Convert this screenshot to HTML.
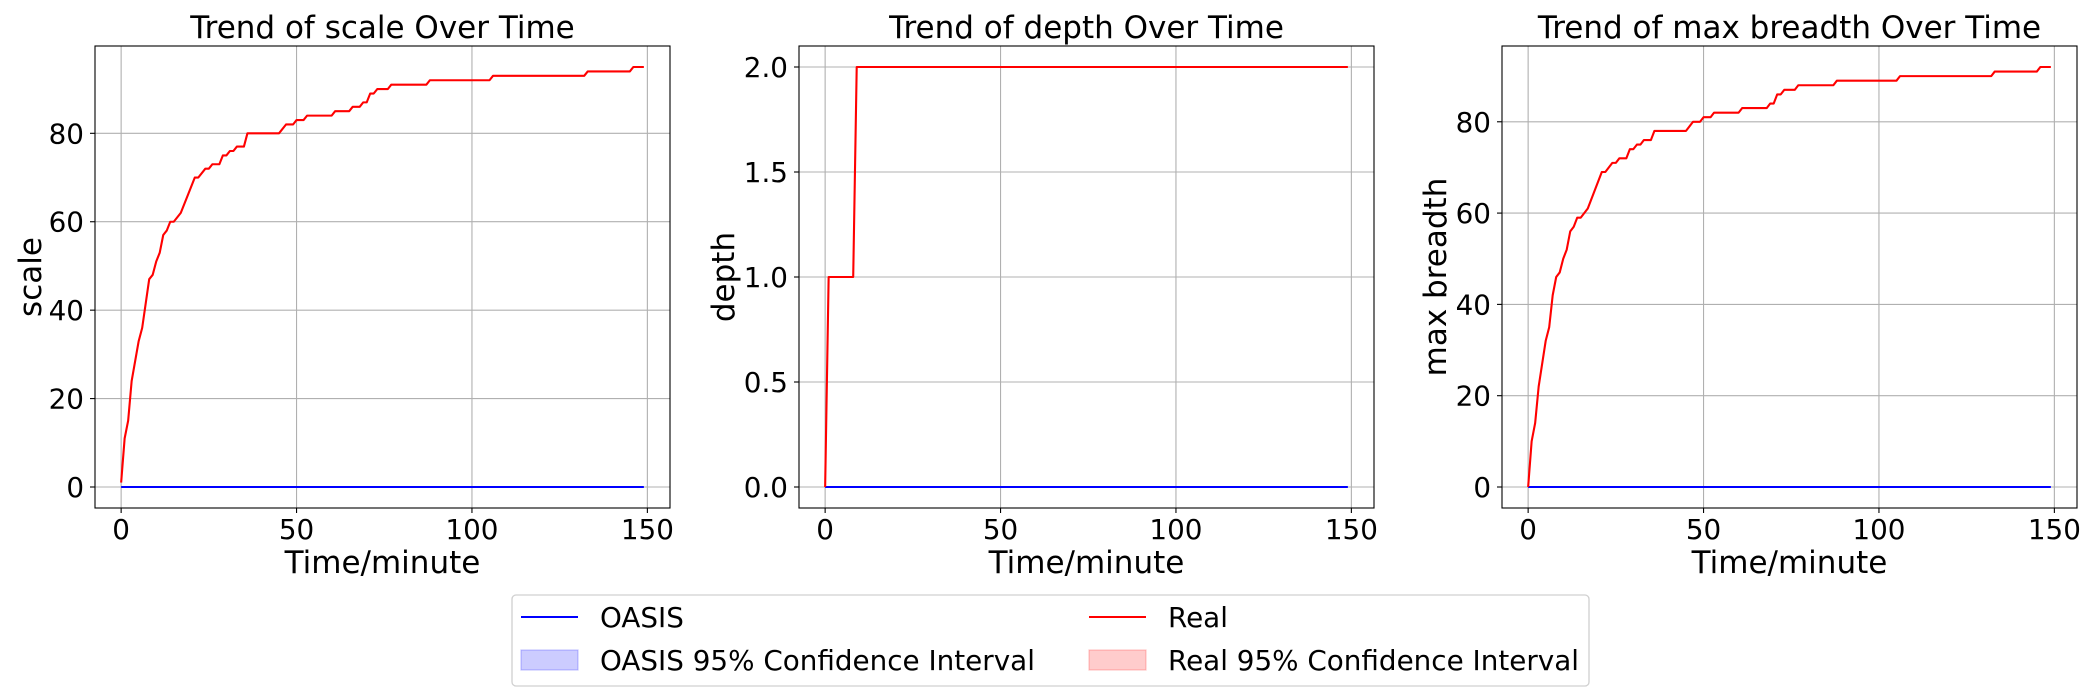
<!DOCTYPE html>
<html><head><meta charset="utf-8">
<style>
html,body{margin:0;padding:0;background:#fff;}
svg{display:block;font-family:"DejaVu Sans","Liberation Sans",sans-serif;}
</style></head>
<body>
<svg id="fig" width="2100" height="700" viewBox="0 0 2100 700" xmlns="http://www.w3.org/2000/svg"></svg>
<script>
// ---------- data ----------
const xTicks = [0, 50, 100, 150];
const oasisTimes = [0, 149];
const oasisValues = [0, 0];

const scaleTimes = [0,1,2,3,5,6,8,9,10,11,12,13,14,15,17,19,21,22,24,25,26,28,29,30,31,32,33,35,36,45,47,49,50,52,53,60,61,65,66,68,69,70,71,72,73,76,77,87,88,105,106,132,133,145,146,149];
const scaleValues = [1,11,15,24,33,36,47,48,51,53,57,58,60,60,62,66,70,70,72,72,73,73,75,75,76,76,77,77,80,80,82,82,83,83,84,84,85,85,86,86,87,87,89,89,90,90,91,91,92,92,93,93,94,94,95,95];
const scaleTicks = [0, 20, 40, 60, 80];
const scaleTickLabels = ["0","20","40","60","80"];

const depthTimes = [0,1,8,9,149];
const depthValues = [0,1,1,2,2];
const depthTicks = [0, 0.5, 1, 1.5, 2];
const depthTickLabels = ["0.0","0.5","1.0","1.5","2.0"];

const breadthTimes = [0,1,2,3,5,6,7,8,9,10,11,12,13,14,15,17,19,21,22,24,25,26,28,29,30,31,32,33,35,36,45,47,49,50,52,53,60,61,68,69,70,71,72,73,76,77,87,88,105,106,132,133,145,146,149];
const breadthValues = [0,10,14,22,32,35,42,46,47,50,52,56,57,59,59,61,65,69,69,71,71,72,72,74,74,75,75,76,76,78,78,80,80,81,81,82,82,83,83,84,84,86,86,87,87,88,88,89,89,90,90,91,91,92,92];
const breadthTicks = [0, 20, 40, 60, 80];
const breadthTickLabels = ["0","20","40","60","80"];

// ---------- drawing ----------
const NS = "http://www.w3.org/2000/svg";
const fig = document.getElementById('fig');
function mk(tag, attrs, parent){
  const e = document.createElementNS(NS, tag);
  for (const k in attrs) e.setAttribute(k, attrs[k]);
  (parent||fig).appendChild(e);
  return e;
}

function panel(opt){
  const g = mk('g', {});
  
  
  const L = opt.left, R = opt.left + 575, T = 46, B = 508;
  const xmin = -7.45, xmax = 156.45;
  const xs = v => L + (v - xmin) / (xmax - xmin) * (R - L);
  const ys = v => B - (v - opt.ymin) / (opt.ymax - opt.ymin) * (B - T);
  // grid
  xTicks.forEach(t => {
    const l = mk('line', {x1: xs(t), x2: xs(t), y1: T, y2: B, stroke: '#b0b0b0', 'stroke-width': 1.1}, g);
    
    
    const tk = mk('line', {x1: xs(t), x2: xs(t), y1: B, y2: B + 5, stroke: '#000', 'stroke-width': 1.1}, g);
    
    
    const tx = mk('text', {x: xs(t), y: 539, 'font-size': 27.8, 'text-anchor': 'middle', fill: '#000'}, g);
    tx.textContent = String(t);
    
    
  });
  opt.ticks.forEach((t, i) => {
    const l = mk('line', {x1: L, x2: R, y1: ys(t), y2: ys(t), stroke: '#b0b0b0', 'stroke-width': 1.1}, g);
    
    
    const tk = mk('line', {x1: L - 5, x2: L, y1: ys(t), y2: ys(t), stroke: '#000', 'stroke-width': 1.1}, g);
    
    
    const tx = mk('text', {x: L - 11, y: ys(t) + 10, 'font-size': 27.8, 'text-anchor': 'end', fill: '#000'}, g);
    tx.textContent = opt.labels[i];
    
    
  });
  // series
  const pts = (ts, vs) => ts.map((t, i) => xs(t).toFixed(2) + ',' + ys(vs[i]).toFixed(2)).join(' ');
  const o = mk('polyline', {points: pts(oasisTimes, oasisValues), fill: 'none', stroke: '#0000ff', 'stroke-width': 2.1}, g);
  
  
  const r = mk('polyline', {points: pts(opt.times, opt.values), fill: 'none', stroke: '#ff0000', 'stroke-width': 2.1, 'stroke-linejoin': 'round'}, g);
  
  
  // frame
  const f = mk('rect', {x: L, y: T, width: R - L, height: B - T, fill: 'none', stroke: '#000', 'stroke-width': 1.1}, g);
  
  
  // title
  const ti = mk('text', {x: (L + R) / 2, y: 38, 'font-size': 31, 'text-anchor': 'middle', fill: '#000'}, g);
  ti.textContent = opt.title;
  
  
  const xl = mk('text', {x: (L + R) / 2, y: 573, 'font-size': 31, 'text-anchor': 'middle', fill: '#000'}, g);
  xl.textContent = 'Time/minute';
  
  
  const yx = opt.ylabelX, yy = (T + B) / 2;
  const yl = mk('text', {x: yx, y: yy, 'font-size': 31, 'text-anchor': 'middle', 'dominant-baseline': 'central', fill: '#000', transform: 'rotate(-90 ' + yx + ' ' + yy + ')'}, g);
  yl.textContent = opt.ylabel;
  
  
}

panel({name: 'scale-chart', left: 95, ymin: -4.75, ymax: 99.75, ticks: scaleTicks, labels: scaleTickLabels, times: scaleTimes, values: scaleValues, title: 'Trend of scale Over Time', ylabel: 'scale', ylabelX: 31});
panel({name: 'depth-chart', left: 799, ymin: -0.1, ymax: 2.1, ticks: depthTicks, labels: depthTickLabels, times: depthTimes, values: depthValues, title: 'Trend of depth Over Time', ylabel: 'depth', ylabelX: 724});
panel({name: 'max-breadth-chart', left: 1502, ymin: -4.6, ymax: 96.6, ticks: breadthTicks, labels: breadthTickLabels, times: breadthTimes, values: breadthValues, title: 'Trend of max breadth Over Time', ylabel: 'max breadth', ylabelX: 1436});

// legend
const lg = mk('g', {});


const box = mk('rect', {x: 512, y: 595, width: 1077, height: 91, rx: 4, fill: '#fff', stroke: '#d0d0d0', 'stroke-width': 1.3}, lg);


const entries = [
  {x: 521, row: 0, type: 'line', color: '#0000ff', label: 'OASIS', name: 'legend-entry-oasis'},
  {x: 1089, row: 0, type: 'line', color: '#ff0000', label: 'Real', name: 'legend-entry-real'},
  {x: 521, row: 1, type: 'patch', color: '#0000ff', label: 'OASIS 95% Confidence Interval', name: 'legend-entry-oasis-ci'},
  {x: 1089, row: 1, type: 'patch', color: '#ff0000', label: 'Real 95% Confidence Interval', name: 'legend-entry-real-ci'}
];
entries.forEach(en => {
  const cy = en.row === 0 ? 617 : 660;
  const eg = mk('g', {}, lg);
  
  
  if (en.type === 'line') {
    mk('line', {x1: en.x, x2: en.x + 57, y1: cy, y2: cy, stroke: en.color, 'stroke-width': 2.1}, eg);
  } else {
    mk('rect', {x: en.x, y: cy - 10, width: 57, height: 20, fill: en.color, 'fill-opacity': 0.2, stroke: en.color, 'stroke-opacity': 0.2, 'stroke-width': 1.3}, eg);
  }
  const t = mk('text', {x: en.x + 79, y: cy + 10, 'font-size': 27.8, fill: '#000'}, eg);
  t.textContent = en.label;
});
</script>
</body></html>
